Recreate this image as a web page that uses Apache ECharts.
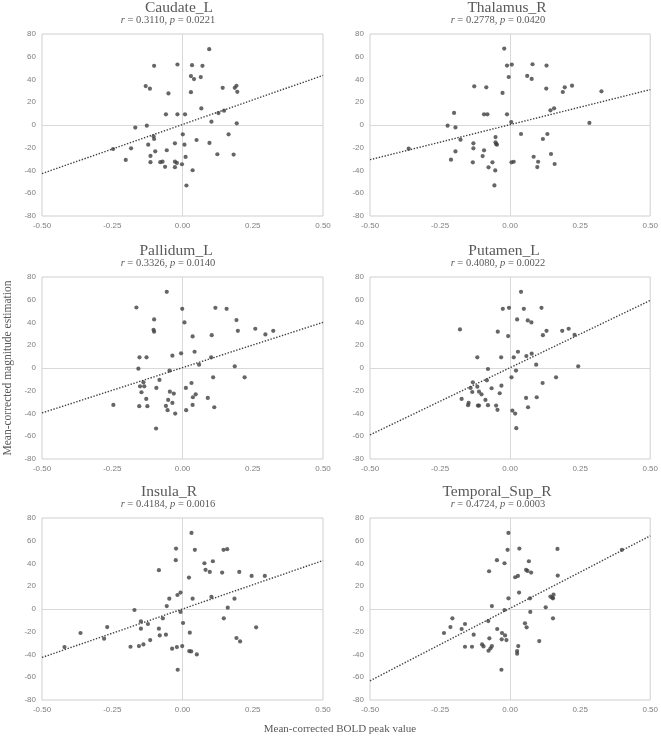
<!DOCTYPE html>
<html><head><meta charset="utf-8">
<script src="https://cdn.jsdelivr.net/npm/echarts@6/dist/echarts.min.js"></script>
<style>html,body{margin:0;padding:0;background:#fff}#c{width:661px;height:737px}</style>
</head><body><div id="c"></div>
<script>
// ---------- data ----------
const regionNames = ['Caudate_L', 'Thalamus_R', 'Pallidum_L', 'Putamen_L', 'Insula_R', 'Temporal_Sup_R'];
const rValues = ['0.3110', '0.2778', '0.3326', '0.4080', '0.4184', '0.4724'];
const pValues = ['0.0221', '0.0420', '0.0140', '0.0022', '0.0016', '0.0003'];
const xTickValues = [-0.5, -0.25, 0, 0.25, 0.5];
const yTickValues = [-80, -60, -40, -20, 0, 20, 40, 60, 80];
const xAxisTitle = 'Mean-corrected BOLD peak value';
const yAxisTitle = 'Mean-corrected magnitude estimation';

const caudateL = [
  [0.095, 66.7], [-0.101, 52], [-0.018, 53.2], [0.034, 52.6], [0.071, 52], [0.030, 43], [0.041, 40.4],
  [0.065, 42.1], [-0.131, 34.2], [-0.116, 31.9], [-0.050, 27.8], [0.030, 28.9], [0.143, 32.7], [0.186, 32.7],
  [0.192, 34.5], [0.195, 29.2], [0.067, 14.6], [-0.059, 9.4], [-0.018, 9.4], [0.009, 9.4], [0.128, 10.5],
  [0.148, 12.6], [0.103, 2.9], [0.193, 1.5], [-0.168, -2.3], [-0.127, -0.6], [-0.103, -9.9], [-0.101, -12.3],
  [0.001, -8.2], [0.164, -8.2], [0.050, -13.2], [0.096, -15.8], [-0.122, -17.3], [-0.027, -16.1], [0.007, -17.3],
  [-0.247, -21.1], [-0.183, -20.5], [-0.097, -23.1], [-0.056, -22.2], [-0.114, -27.2], [0.011, -28.1],
  [0.124, -25.7], [0.182, -26.0], [-0.202, -30.7], [-0.114, -32.7], [-0.079, -32.7], [-0.071, -32.2],
  [-0.027, -32.2], [-0.020, -33.3], [-0.002, -34.5], [-0.062, -36.8], [-0.027, -37.1], [0.036, -39.8], [0.014, -53.2]
];
const thalamusR = [
  [-0.021, 67.2], [-0.011, 52.2], [0.006, 53.1], [0.080, 53.4], [0.130, 52.2], [-0.005, 42.2], [0.061, 43.1],
  [0.077, 40.5], [-0.128, 34.0], [-0.085, 33.1], [0.129, 32.0], [0.195, 33.1], [0.221, 34.6], [-0.027, 28.2],
  [0.188, 29.0], [0.326, 29.6], [0.157, 14.7], [0.144, 12.9], [-0.200, 10.6], [-0.093, 9.4], [-0.081, 9.4],
  [-0.011, 9.4], [0.004, 2.6], [0.283, 1.8], [-0.223, -0.6], [-0.195, -2.1], [0.039, -7.9], [0.133, -7.9],
  [-0.177, -12.9], [-0.052, -10.6], [0.117, -12.3], [-0.131, -16.1], [-0.052, -15.2], [-0.050, -16.7],
  [-0.047, -17.3], [-0.131, -20.5], [-0.093, -22.3], [-0.195, -23.2], [0.146, -25.5], [-0.098, -27.3],
  [0.084, -27.9], [-0.211, -30.5], [-0.133, -32.8], [-0.063, -32.8], [0.005, -32.8], [0.013, -32.3],
  [0.100, -32.3], [0.159, -34.3], [-0.077, -37.2], [0.097, -37.0], [-0.053, -39.9], [-0.362, -20.8], [-0.056, -53.1]
];
const pallidumL = [
  [-0.056, 67.0], [-0.164, 53.2], [-0.001, 52.0], [0.117, 52.9], [0.157, 52.0], [-0.101, 42.7], [0.192, 42.1],
  [0.007, 40.1], [-0.103, 33.6], [-0.101, 31.9], [0.197, 32.7], [0.259, 34.5], [0.295, 29.5], [0.323, 32.7],
  [0.036, 27.8], [0.104, 28.9], [0.043, 14.3], [-0.036, 10.8], [-0.005, 12.9], [-0.153, 9.4], [-0.128, 9.4],
  [0.102, 9.4], [0.059, 2.9], [0.186, 1.5], [-0.157, -0.6], [-0.046, -2.3], [-0.139, -12.6], [-0.082, -10.5],
  [0.109, -8.2], [0.221, -8.2], [-0.151, -16.1], [-0.136, -16.1], [0.032, -13.2], [-0.093, -17.5], [0.012, -17.5],
  [-0.146, -21.3], [-0.045, -20.8], [-0.031, -22.5], [0.047, -23.1], [-0.129, -27.2], [-0.051, -28.1],
  [0.037, -25.7], [0.090, -26.3], [-0.246, -32.5], [-0.154, -33.6], [-0.125, -33.6], [-0.059, -33.3],
  [-0.036, -30.7], [0.036, -32.5], [0.113, -34.5], [-0.053, -37.1], [0.013, -37.1], [-0.026, -40.1], [-0.094, -53.2]
];
const putamenL = [
  [0.039, 67.0], [-0.004, 52.9], [-0.026, 52.0], [0.049, 52.0], [0.112, 52.9], [0.025, 42.7], [0.063, 41.8],
  [0.076, 40.1], [-0.179, 33.9], [-0.044, 31.9], [-0.007, 28.1], [0.130, 32.7], [0.117, 28.9], [0.186, 32.7],
  [0.209, 34.5], [0.230, 29.2], [0.028, 14.3], [0.077, 12.6], [0.058, 10.5], [-0.117, 9.4], [-0.032, 9.4],
  [0.013, 9.4], [0.093, 2.9], [0.243, 1.5], [-0.079, -0.9], [0.021, -2.3], [-0.083, -10.8], [0.005, -8.2],
  [0.164, -8.2], [-0.133, -12.6], [0.116, -13.2], [-0.141, -17.5], [-0.117, -16.4], [-0.031, -15.5],
  [-0.066, -17.8], [-0.135, -21.1], [-0.111, -20.8], [-0.102, -23.1], [-0.037, -22.2], [-0.173, -27.2],
  [-0.088, -28.1], [0.057, -26.3], [0.095, -25.7], [-0.148, -30.7], [-0.150, -32.7], [-0.115, -33.0],
  [-0.111, -33.0], [-0.079, -32.7], [-0.050, -33.0], [-0.045, -36.8], [0.064, -34.5], [0.008, -37.4],
  [0.018, -40.1], [0.022, -52.9]
];
const insulaR = [
  [0.032, 66.9], [-0.023, 53.1], [0.044, 52.0], [0.146, 52.0], [0.159, 52.6], [-0.024, 42.9], [0.078, 40.2],
  [0.108, 42.0], [-0.084, 34.1], [0.082, 34.4], [0.097, 32.6], [0.141, 32.0], [0.202, 32.6], [0.023, 27.6],
  [0.246, 29.1], [0.293, 29.1], [-0.007, 14.4], [-0.018, 12.3], [-0.047, 9.1], [0.036, 9.1], [0.103, 10.6],
  [0.185, 9.1], [-0.056, 2.6], [0.161, 1.2], [-0.171, -0.9], [-0.007, -2.6], [-0.070, -8.2], [0.147, -8.2],
  [-0.148, -10.9], [-0.123, -13.2], [0.002, -12.3], [-0.148, -17.3], [-0.084, -17.3], [-0.268, -15.9],
  [0.262, -16.1], [-0.363, -21.1], [-0.081, -23.2], [-0.059, -22.6], [0.026, -20.8], [-0.279, -26.1],
  [-0.115, -27.3], [0.192, -25.5], [0.205, -28.5], [-0.139, -31.1], [-0.155, -32.6], [-0.185, -33.2],
  [-0.020, -33.5], [-0.001, -32.6], [-0.420, -33.5], [-0.037, -34.9], [0.024, -37.0], [0.031, -37.3],
  [0.051, -39.9], [-0.017, -53.4]
];
const temporalSupR = [
  [-0.006, 66.9], [-0.009, 52.0], [0.033, 53.1], [0.169, 52.8], [0.399, 52.0], [-0.047, 42.9], [-0.020, 40.2],
  [0.067, 42.0], [-0.075, 33.2], [0.057, 34.4], [0.062, 33.5], [0.075, 32.0], [0.018, 27.9], [0.028, 29.1],
  [0.170, 29.4], [0.032, 14.4], [-0.006, 9.4], [0.071, 9.4], [0.144, 10.9], [0.151, 10.0], [0.155, 12.6],
  [0.153, 9.4], [-0.065, 2.6], [0.127, 1.5], [-0.020, -0.9], [0.072, -2.6], [-0.206, -8.2], [0.153, -8.2],
  [-0.078, -10.6], [0.053, -12.6], [-0.161, -13.2], [-0.213, -15.9], [0.059, -16.1], [-0.173, -17.6],
  [-0.046, -17.6], [-0.029, -21.1], [-0.236, -21.1], [-0.130, -22.6], [-0.018, -23.2], [-0.074, -25.8],
  [-0.030, -26.7], [-0.013, -27.3], [0.104, -28.2], [-0.100, -31.1], [-0.095, -32.9], [-0.065, -32.6],
  [-0.161, -33.2], [-0.136, -33.2], [-0.070, -34.6], [-0.077, -36.7], [0.029, -32.6], [0.025, -37.0],
  [0.025, -39.3], [-0.031, -53.4]
];
const panelData = [caudateL, thalamusR, pallidumL, putamenL, insulaR, temporalSupR];
// fitted trend line values at x = -0.50 and x = 0.50
const trendAtMin = [-42.7, -30.5, -39.5, -58.8, -42.6, -63.1];
const trendAtMax = [43.6, 31.1, 40.1, 59.4, 42.6, 64.3];

// ---------- layout / style ----------
const gridLeft = [42, 370, 42, 370, 42, 370];
const gridTop = [34, 34, 277, 277, 518, 518];
const gridW = 281, gridH = 182;
const titleCx = [179, 507, 176, 504, 169, 497];
const subCx = [168, 498, 168, 498, 168, 498];
const serif = '"Liberation Serif", "Times New Roman", serif';
const tickFont = '"Liberation Sans", Arial, sans-serif';
const textCol = '#595959';
const frameCol = '#cfcfcf';
const dotCol = '#404040';

const grids = [], xAxes = [], yAxes = [], series = [], texts = [];
panelData.forEach((pts, i) => {
  grids.push({left: gridLeft[i], top: gridTop[i], width: gridW, height: gridH,
    show: true, borderColor: frameCol, borderWidth: 1, backgroundColor: 'transparent'});
  xAxes.push({gridIndex: i, type: 'value',
    min: xTickValues[0], max: xTickValues[xTickValues.length - 1], interval: xTickValues[1] - xTickValues[0],
    axisLine: {show: false}, axisTick: {show: false}, splitLine: {show: false},
    axisLabel: {formatter: v => v.toFixed(2), color: '#7f7f7f', fontSize: 8, fontFamily: tickFont, margin: 6}});
  yAxes.push({gridIndex: i, type: 'value',
    min: yTickValues[0], max: yTickValues[yTickValues.length - 1], interval: yTickValues[1] - yTickValues[0],
    axisLine: {show: false}, axisTick: {show: false}, splitLine: {show: false},
    axisLabel: {formatter: v => String(v), color: '#7f7f7f', fontSize: 8, fontFamily: tickFont, margin: 6}});
  series.push({type: 'line', xAxisIndex: i, yAxisIndex: i, z: 2, silent: true,
    data: [[xTickValues[0], trendAtMin[i]], [xTickValues[xTickValues.length - 1], trendAtMax[i]]],
    symbol: 'none', lineStyle: {color: '#404040', width: 1.4, type: [1.4, 1.6]},
    markLine: {silent: true, symbol: 'none', label: {show: false}, z: 1,
      lineStyle: {color: '#d9d9d9', width: 1, type: 'solid'},
      data: [{xAxis: 0}, {yAxis: 0}]}});
  series.push({type: 'scatter', xAxisIndex: i, yAxisIndex: i, z: 3, data: pts,
    symbol: 'circle', symbolSize: 4.2, itemStyle: {color: dotCol}});
  texts.push({type: 'text', x: titleCx[i], y: gridTop[i] - 26.5,
    style: {text: regionNames[i], fill: textCol, fontFamily: serif, fontSize: 15.5,
      align: 'center', verticalAlign: 'middle'}});
  texts.push({type: 'text', x: subCx[i], y: gridTop[i] - 13.5,
    style: {text: '{i|r} = ' + rValues[i] + ', {i|p} = ' + pValues[i], fill: textCol, fontFamily: serif,
      fontSize: 10.5, align: 'center', verticalAlign: 'middle',
      rich: {i: {fontStyle: 'italic', fontFamily: serif, fontSize: 10.5, fill: textCol, color: textCol}}}});
});
texts.push({type: 'text', x: 8, y: 368, rotation: Math.PI / 2,
  style: {text: yAxisTitle, fill: textCol, fontFamily: serif, fontSize: 11.5, align: 'center', verticalAlign: 'middle'}});
texts.push({type: 'text', x: 340, y: 729,
  style: {text: xAxisTitle, fill: textCol, fontFamily: serif, fontSize: 11, align: 'center', verticalAlign: 'middle'}});

const chart = echarts.init(document.getElementById('c'), null, {renderer: 'canvas'});
chart.setOption({
  animation: false,
  backgroundColor: '#ffffff',
  grid: grids, xAxis: xAxes, yAxis: yAxes, series: series,
  graphic: texts
});
</script></body></html>
